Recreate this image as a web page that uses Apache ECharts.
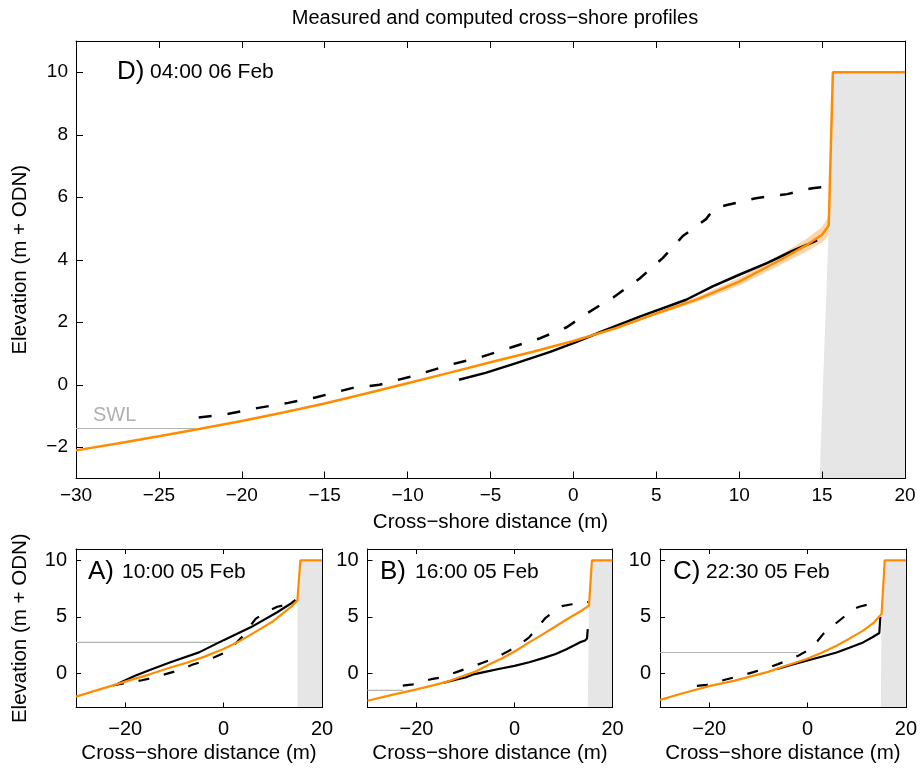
<!DOCTYPE html>
<html><head><meta charset="utf-8">
<script src="https://cdn.jsdelivr.net/npm/echarts@6/dist/echarts.min.js"></script>
<style>html,body{margin:0;padding:0;background:#fff}#c{width:920px;height:770px}</style>
</head><body><div id="c"></div>
<script>
// ---- tick values ----
const yTicksMain = [-2, 0, 2, 4, 6, 8, 10];
const xTicksSmall = [-20, 0, 20];
const yTicksSmall = [0, 5, 10];

// ---- panel labels ----
const panelTags = ['D)', 'A)', 'B)', 'C)'];
const panelTimes = ['04:00 06 Feb', '10:00 05 Feb', '16:00 05 Feb', '22:30 05 Feb'];

// ---- Panel D (04:00 06 Feb) ----
const dModel = [[-30,-2.1],[-27.5,-1.88],[-25,-1.65],[-22.5,-1.41],[-20,-1.16],[-17.5,-0.89],[-15,-0.6],[-12.5,-0.28],[-10,0.05],[-7.5,0.38],[-5,0.72],[-2.5,1.05],[0,1.4],[2.5,1.8],[5,2.28],[7.5,2.74],[10,3.3],[12.5,4.0],[14,4.45],[15,4.8],[15.4,5.1],[15.65,10],[20,10]];
const dMeasured = [[-6.9,0.16],[-5.3,0.38],[-3.4,0.7],[-1.4,1.05],[0.2,1.37],[1.6,1.68],[4,2.18],[6.8,2.72],[8.4,3.15],[10,3.52],[11.7,3.9],[13.2,4.28],[14.7,4.62]];
const dInitial = [[-22.6,-1.05],[-20.8,-0.93],[-19,-0.74],[-17.2,-0.58],[-15.5,-0.4],[-13.3,-0.1],[-11.7,0],[-9.9,0.25],[-8.1,0.53],[-7.5,0.63],[-5.5,0.9],[-3.9,1.17],[-2,1.49],[-0.4,1.84],[0.8,2.28],[1.6,2.54],[2.4,2.79],[4,3.4],[5.4,4.06],[6.6,4.76],[8,5.3],[8.5,5.65],[9.25,5.75],[11,5.97],[12.9,6.1],[14.4,6.29],[15,6.32]];
const dSWL = [[-30,-1.4],[-22.8,-1.4]];
const dWall = [[14.85,-3],[15.4,5.05],[15.65,10],[20,10]];
const dBandX = [5,7.5,10,12.5,14,15,15.4];
const dBandLo = [2.23,2.66,3.18,3.84,4.25,4.55,4.8];
const dBandHi = [2.33,2.82,3.42,4.16,4.65,5.05,5.4];

// ---- Panel A (10:00 05 Feb) ----
const aModel = [[-30,-2.04],[-25,-1.38],[-21,-0.85],[-18,-0.45],[-15,-0.07],[-10.8,0.53],[-7.5,0.95],[-4,1.47],[0,2.16],[3,2.8],[6.9,3.79],[10,4.6],[12.3,5.41],[14,6.0],[15,6.45],[15.6,10],[20,10]];
const aMeasured = [[-21.5,-0.9],[-18,-0.2],[-15,0.32],[-10.8,1.0],[-5,1.87],[0,2.95],[5.5,4.08],[10.9,5.41],[13.6,6.16],[14.6,6.5]];
const aInitial = [[-22.5,-1.05],[-20,-0.85],[-16.6,-0.59],[-14,-0.35],[-11.8,-0.05],[-9,0.3],[-6.4,0.77],[-4,1.1],[-2,1.42],[0,1.8],[2,2.45],[4,3.35],[6.5,4.83],[8.6,5.42],[10.9,5.9],[12.9,6.1],[14.5,6.55]];
const aSWL = [[-30,2.75],[-0.3,2.75]];
const aWall = [[15.0,-3],[15.0,6.45],[15.6,10],[20,10]];

// ---- Panel B (16:00 05 Feb) ----
const bModel = [[-30,-2.4],[-25,-1.88],[-20,-1.4],[-16,-0.98],[-13.9,-0.74],[-10.5,-0.22],[-7.8,0.2],[-5.2,0.8],[-2.5,1.35],[0,1.95],[3,2.75],[5.9,3.5],[8.5,4.2],[11.3,4.95],[13.5,5.5],[15.2,6.0],[15.8,10],[20,10]];
const bMeasured = [[-14.4,-0.8],[-12,-0.55],[-10,-0.35],[-8.6,-0.1],[-6,0.15],[-3,0.42],[0,0.68],[3,1.0],[6,1.38],[8.4,1.73],[10.6,2.15],[12.2,2.5],[13.3,2.75],[14.4,2.92],[14.8,3.1],[14.95,3.93]];
const bInitial = [[-22.8,-1.07],[-20.7,-0.95],[-17,-0.5],[-15,-0.35],[-11.7,0.15],[-9,0.55],[-6.5,0.95],[-4,1.35],[-1.8,1.85],[0.5,2.4],[3,3.2],[4.5,3.95],[6.3,4.9],[7.8,5.4],[9.7,5.95],[11.7,6.12],[13.1,6.3],[15.0,6.32]];
const bSWL = [[-30,-1.48],[-22.8,-1.48]];
const bWall = [[14.96,-3],[15.2,6.0],[15.8,10],[20,10]];

// ---- Panel C (22:30 05 Feb) ----
const cModel = [[-30,-2.33],[-25,-1.7],[-19.8,-1.09],[-15,-0.65],[-11.7,-0.27],[-8,0.15],[-4.9,0.62],[-2.5,0.95],[-0.2,1.28],[3,1.85],[5.9,2.46],[8.5,3.08],[11.3,3.79],[13.5,4.5],[15.06,5.27],[15.7,10],[20,10]];
const cMeasured = [[-6.3,0.39],[-3,0.8],[-0.2,1.13],[3,1.5],[5.9,1.86],[8.5,2.28],[11.3,2.75],[13.2,3.2],[14.6,3.58],[14.8,5.0]];
const cInitial = [[-22.5,-1.09],[-20.5,-1.0],[-16.8,-0.55],[-14,-0.25],[-11,0.12],[-8.5,0.45],[-6,0.83],[-3.5,1.25],[-1.9,1.57],[0.5,2.16],[2,2.85],[3.2,3.5],[5.2,4.23],[7.3,4.97],[8.6,5.56],[10.5,5.9],[12.1,6.07],[13.5,6.2],[15.06,6.29]];
const cSWL = [[-30,1.86],[-1.8,1.86]];
const cWall = [[14.9,-3],[15.06,5.27],[15.7,10],[20,10]];

const FONT = 'Liberation Sans';
const minus = v => String(v).replace('-', '\u2212');
const ORANGE = '#ff8c00';

const grids = [
  {left: 76, top: 41, width: 829, height: 437.5},
  {left: 76, top: 549, width: 246, height: 158.5},
  {left: 367.5, top: 549, width: 245, height: 158.5},
  {left: 660, top: 549, width: 246, height: 158.5}
];

const xAxes = [], yAxes = [];
grids.forEach((g, i) => {
  const main = i === 0;
  const tickLen = main ? 7 : 5;
  const xa = {
    type: 'value', gridIndex: i, min: -30, max: 20, position: 'bottom', z: 3,
    axisLine: {show: true, onZero: false, lineStyle: {color: '#000', width: 1}},
    axisTick: {show: true, inside: true, length: tickLen, lineStyle: {color: '#000', width: 1}},
    axisLabel: {show: true, formatter: minus, color: '#000', fontFamily: FONT, fontSize: main ? 19 : 20, margin: main ? 8 : 12, showMinLabel: true, showMaxLabel: true},
    splitLine: {show: false},
    name: 'Cross\u2212shore distance (m)', nameLocation: 'middle', nameGap: main ? 33 : 35,
    nameTextStyle: {color: '#000', fontFamily: FONT, fontSize: 20.5}
  };
  if (main) { xa.interval = 5; }
  else { xa.axisLabel.customValues = xTicksSmall; xa.axisTick.customValues = xTicksSmall; }
  xAxes.push(xa);
  const ya = {
    type: 'value', gridIndex: i, min: -3, max: 11, position: 'left', z: 3,
    axisLine: {show: true, onZero: false, lineStyle: {color: '#000', width: 1}},
    axisTick: {show: true, inside: true, length: tickLen, customValues: main ? yTicksMain : yTicksSmall, lineStyle: {color: '#000', width: 1}},
    axisLabel: {show: true, customValues: main ? yTicksMain : yTicksSmall, formatter: minus, color: '#000', fontFamily: FONT, fontSize: main ? 19 : 20, margin: main ? 8 : 9},
    splitLine: {show: false}
  };
  if (i <= 1) {
    ya.name = 'Elevation (m + ODN)'; ya.nameLocation = 'middle'; ya.nameGap = 45; ya.nameRotate = 90;
    ya.nameTextStyle = {color: '#000', fontFamily: FONT, fontSize: 20.5};
  }
  yAxes.push(ya);
});
// box: top x axes with ticks, right y axes with line only
grids.forEach((g, i) => {
  const main = i === 0;
  const xt = {
    type: 'value', gridIndex: i, min: -30, max: 20, position: 'top', z: 3,
    axisLine: {show: true, onZero: false, lineStyle: {color: '#000', width: 1}},
    axisTick: {show: true, inside: true, length: main ? 7 : 5, lineStyle: {color: '#000', width: 1}},
    axisLabel: {show: false}, splitLine: {show: false}
  };
  if (main) xt.interval = 5; else xt.axisTick.customValues = xTicksSmall;
  xAxes.push(xt);
  yAxes.push({
    type: 'value', gridIndex: i, min: -3, max: 11, position: 'right', z: 3,
    axisLine: {show: true, onZero: false, lineStyle: {color: '#000', width: 1}},
    axisTick: {show: false}, axisLabel: {show: false}, splitLine: {show: false}
  });
});

const panels = [
  {model: dModel, meas: dMeasured, init: dInitial, swl: dSWL, wall: dWall},
  {model: aModel, meas: aMeasured, init: aInitial, swl: aSWL, wall: aWall},
  {model: bModel, meas: bMeasured, init: bInitial, swl: bSWL, wall: bWall},
  {model: cModel, meas: cMeasured, init: cInitial, swl: cSWL, wall: cWall}
];

const series = [];
panels.forEach((p, i) => {
  const main = i === 0;
  const lw = main ? 2.5 : 2.2;
  const base = {xAxisIndex: i, yAxisIndex: i, showSymbol: false, symbol: 'none', silent: true, animation: false};
  series.push(Object.assign({}, base, {
    type: 'line', data: p.wall, z: 1,
    lineStyle: {width: 0, color: '#e6e6e6'},
    areaStyle: {color: '#e6e6e6', opacity: 1, origin: 'start'}
  }));
  if (main) {
    series.push({
      type: 'custom', xAxisIndex: 0, yAxisIndex: 0, silent: true, z: 2, animation: false,
      data: [[0, 0]],
      renderItem: (params, api) => {
        const pts = [];
        dBandX.forEach((x, k) => pts.push(api.coord([x, dBandHi[k]])));
        for (let k = dBandX.length - 1; k >= 0; k--) pts.push(api.coord([dBandX[k], dBandLo[k]]));
        return {type: 'polygon', shape: {points: pts}, style: {fill: '#fcd6aa'}};
      }
    });
  }
  series.push(Object.assign({}, base, {
    type: 'line', data: p.swl, z: 3,
    lineStyle: {width: 1.2, color: '#b3b3b3'}
  }));
  series.push(Object.assign({}, base, {
    type: 'line', data: p.init, z: 4,
    lineStyle: {width: lw, color: '#000', type: main ? [13, 16] : [11, 15], cap: 'butt'}
  }));
  series.push(Object.assign({}, base, {
    type: 'line', data: p.meas, z: 5,
    lineStyle: {width: lw, color: '#000'}
  }));
  series.push(Object.assign({}, base, {
    type: 'line', data: p.model, z: 6,
    lineStyle: {width: lw, color: ORANGE}
  }));
});

const tagPos = [
  {tx: 117, ttx: 150, y: 73},
  {tx: 88, ttx: 122, y: 573},
  {tx: 380, ttx: 415, y: 573},
  {tx: 673, ttx: 706, y: 573}
];
const graphic = [];
tagPos.forEach((t, i) => {
  graphic.push({type: 'text', left: t.tx, top: t.y - 14, z: 10,
    style: {text: panelTags[i], font: '26px "' + FONT + '"', fill: '#000'}});
  graphic.push({type: 'text', left: t.ttx, top: t.y - 11, z: 10,
    style: {text: panelTimes[i], font: '21px "' + FONT + '"', fill: '#000'}});
});
graphic.push({type: 'text', left: 93, top: 405, z: 10,
  style: {text: 'SWL', font: '20px "' + FONT + '"', fill: '#b0b0b0'}});

const chart = echarts.init(document.getElementById('c'), null, {renderer: 'canvas'});
chart.setOption({
  animation: false,
  backgroundColor: '#fff',
  title: {text: 'Measured and computed cross\u2212shore profiles', left: 490, top: 3, textAlign: 'center',
    textStyle: {fontFamily: FONT, fontSize: 20, fontWeight: 'normal', color: '#000'}},
  grid: grids.map(g => Object.assign({containLabel: false}, g)),
  xAxis: xAxes,
  yAxis: yAxes,
  series: series,
  graphic: graphic
});
</script></body></html>
